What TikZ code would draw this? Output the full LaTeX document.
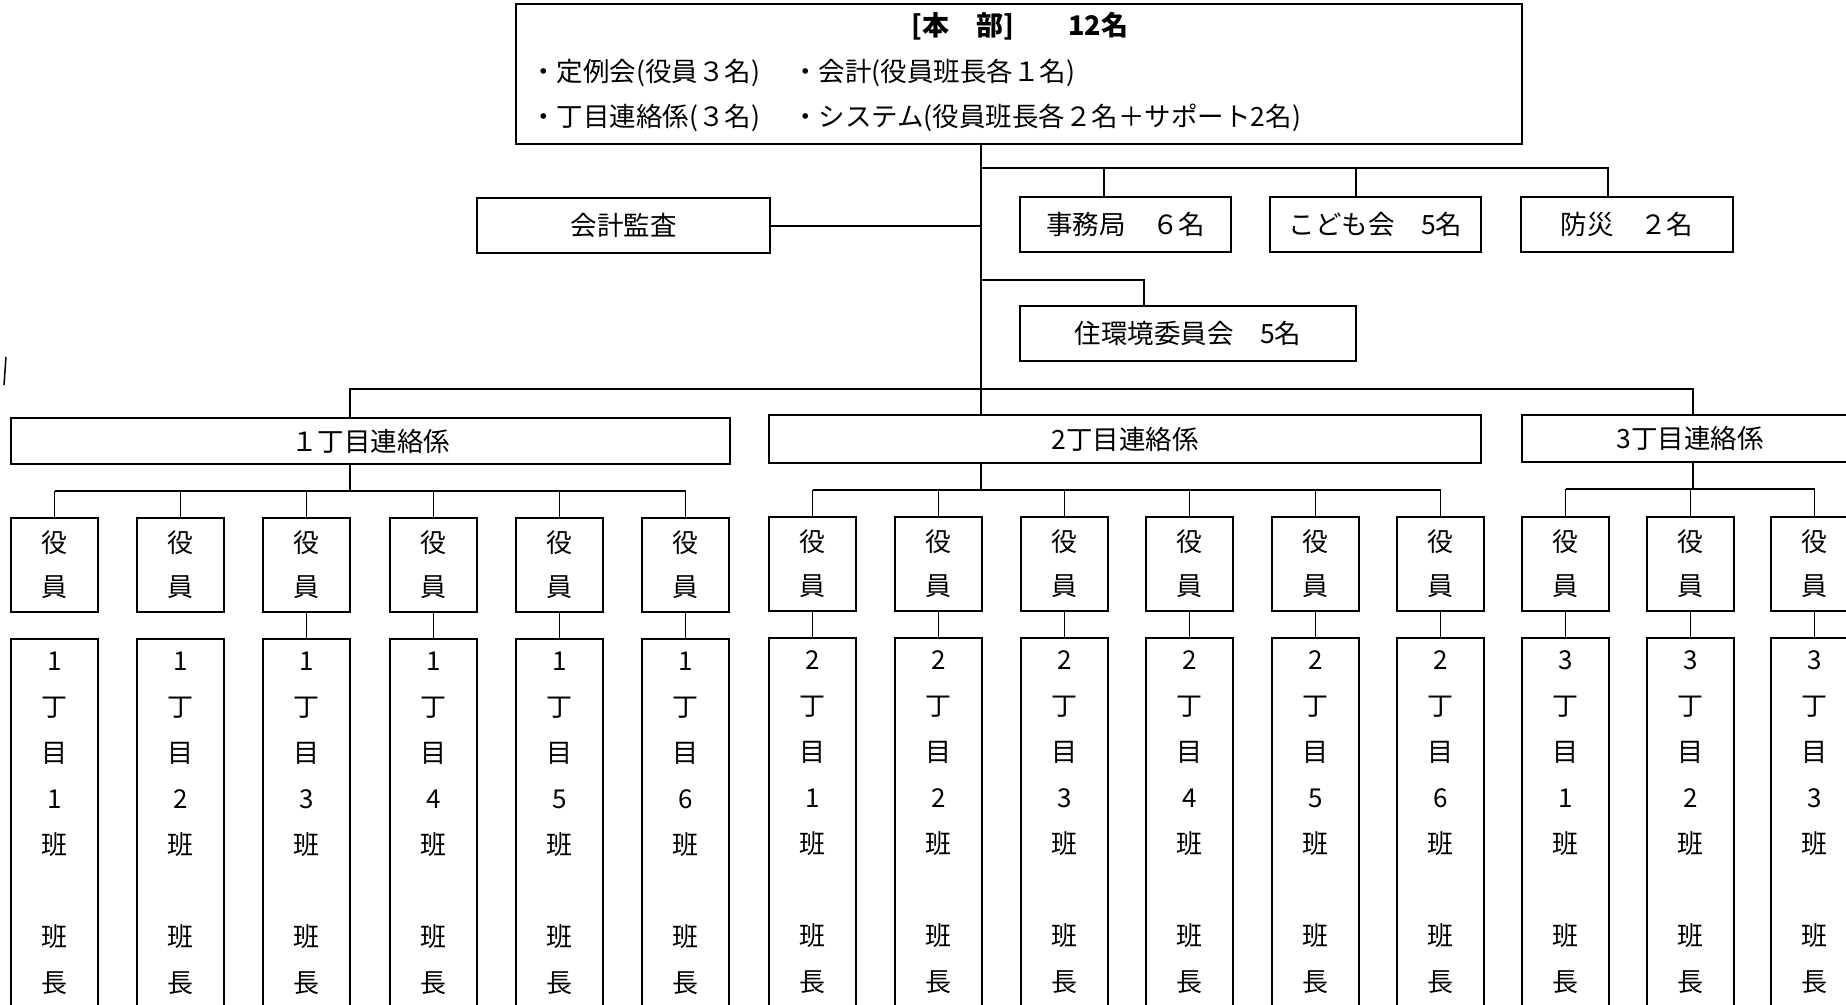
\documentclass[tikz,border=0pt]{standalone}
\usepackage{fontspec}
\setmainfont{Noto Sans CJK JP}
\begin{document}
\begin{tikzpicture}[x=1pt,y=-1pt,
  bx/.style={draw, line width=2.4pt, inner sep=0pt, align=center, font=\fontsize{26.5}{30}\selectfont},
  txt/.style={inner sep=0pt, font=\fontsize{26.5}{30}\selectfont},
  ybox/.style={bx, minimum width=87pt, minimum height=94pt, font=\fontsize{26}{44}\selectfont},
  hbox/.style={bx, minimum width=87pt, minimum height=368pt, font=\fontsize{26}{46}\selectfont},
  conn/.style={line width=2pt},
  cthin/.style={line width=1.4pt}]
\clip (0,0) rectangle (1846,1004);
\fill[white] (0,0) rectangle (1846,1004);
% headquarters
\node[bx, minimum width=1006pt, minimum height=140pt] (hq) at (1019,74) {};
\node[txt, font=\fontsize{27}{30}\selectfont\bfseries] (title) at (1020,26) {[本　部]　　12名};
\node[txt, anchor=west] (l1a) at (530,73) {・定例会(役員３名)};
\node[txt, anchor=west] (l1b) at (792,73) {・会計(役員班長各１名)};
\node[txt, anchor=west] (l2a) at (530,118) {・丁目連絡係(３名)};
\node[txt, anchor=west] (l2b) at (792,118) {・システム(役員班長各２名＋サポート2名)};
% second level
\node[bx, minimum width=293pt, minimum height=55pt] (kansa) at (623.5,225.5) {会計監査};
\node[bx, minimum width=211pt, minimum height=55pt] (jimu) at (1125.5,224.5) {事務局　６名};
\node[bx, minimum width=211pt, minimum height=55pt] (kodomo) at (1375.5,224.5) {こども会　5名};
\node[bx, minimum width=212pt, minimum height=55pt] (bousai) at (1627,224.5) {防災　２名};
\node[bx, minimum width=336pt, minimum height=55pt] (jyuu) at (1188,333.5) {住環境委員会　5名};
\node[bx, minimum width=719pt, minimum height=46pt] (ren1) at (370.5,441) {１丁目連絡係};
\node[bx, minimum width=712pt, minimum height=48pt] (ren2) at (1125,439) {2丁目連絡係};
\node[bx, minimum width=336pt, minimum height=47pt] (ren3) at (1690,438.5) {3丁目連絡係};
% connectors upper
\coordinate (trunk) at (981,0);
\coordinate (busA) at (981,168);
\coordinate (busB) at (981,280);
\coordinate (busC) at (981,389);
\coordinate (r1bus) at (0,491);
\coordinate (r2bus) at (0,490);
\coordinate (r3bus) at (0,489);
\draw[conn] (hq.south -| trunk) -- (ren2.north -| trunk);
\draw[conn] (busA) -| ([xshift=-19pt]bousai.north);
\draw[conn] ([xshift=-21.5pt]jimu.north) -- ([xshift=-21.5pt]jimu.north |- busA);
\draw[conn] ([xshift=-19.5pt]kodomo.north) -- ([xshift=-19.5pt]kodomo.north |- busA);
\draw[conn] (kansa.east) -- (kansa.east -| trunk);
\draw[conn] (busB) -| ([xshift=-44pt]jyuu.north);
\draw[conn] ([xshift=-20.5pt]ren1.north) |- (busC) -| ([xshift=3pt]ren3.north);
\draw[cthin] ([xshift=-20.5pt]ren1.south) -- ([xshift=-20.5pt]ren1.south |- r1bus);
\draw[cthin] (ren2.south -| trunk) -- (trunk |- r2bus);
\draw[cthin] ([xshift=3pt]ren3.south) -- ([xshift=3pt]ren3.south |- r3bus);
% 1 chome
\foreach \l [count=\i] in {11,137,263,390,516,642} {
  \node[ybox] (a1\i) at (\l+43.5,565) {役\\員};
  \node[hbox] (b1\i) at (\l+43.5,823) {1\\丁\\目\\\i\\班\\[46pt]班\\長};
  \draw[cthin] (a1\i.north) -- (a1\i.north |- r1bus);
}
\draw[cthin] (a11.north |- r1bus) -- (a16.north |- r1bus);
\foreach \i in {3,...,6} {\draw[cthin] (a1\i.south) -- (b1\i.north);}
% 2 chome
\foreach \l [count=\i] in {769,895,1021,1146,1272,1397} {
  \node[ybox] (a2\i) at (\l+43.5,564) {役\\員};
  \node[hbox] (b2\i) at (\l+43.5,822) {2\\丁\\目\\\i\\班\\[46pt]班\\長};
  \draw[cthin] (a2\i.north) -- (a2\i.north |- r2bus);
  \draw[cthin] (a2\i.south) -- (b2\i.north);
}
\draw[cthin] (a21.north |- r2bus) -- (a26.north |- r2bus);
% 3 chome
\foreach \l [count=\i] in {1522,1647,1771} {
  \node[ybox] (a3\i) at (\l+43.5,564) {役\\員};
  \node[hbox] (b3\i) at (\l+43.5,822) {3\\丁\\目\\\i\\班\\[46pt]班\\長};
  \draw[cthin] (a3\i.north) -- (a3\i.north |- r3bus);
  \draw[cthin] (a3\i.south) -- (b3\i.north);
}
\draw[cthin] (a31.north |- r3bus) -- (a33.north |- r3bus);
% stray scan mark
\draw[line width=1.5pt] (6,357) -- (4,385);
\end{tikzpicture}
\end{document}
